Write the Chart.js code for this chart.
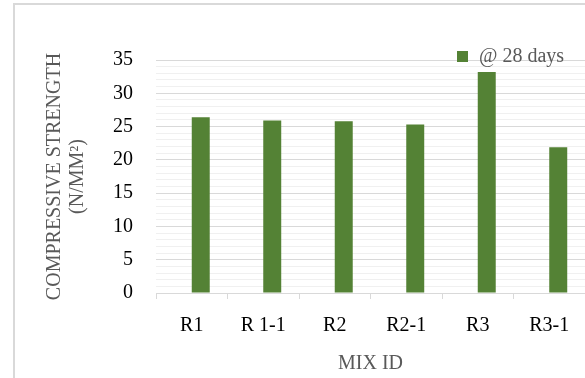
<!DOCTYPE html>
<html>
<head>
<meta charset="utf-8">
<script src="https://cdn.jsdelivr.net/npm/chart.js@4/dist/chart.umd.min.js"></script>
<style>
  body { margin: 0; background: #fff; }
  canvas { display: block; }
</style>
</head>
<body>
<canvas id="myChart" width="585" height="378"></canvas>
<script>
const mixIds = ['R1', 'R 1-1', 'R2', 'R2-1', 'R3', 'R3-1'];
const strength28 = [26.4, 25.9, 25.8, 25.3, 33.2, 21.9];
// the sheet had a second, empty series, which is why the bars sit right of centre
const emptySeries = [null, null, null, null, null, null];
const yTitle = ['COMPRESSIVE STRENGTH', '(N/MM\u00B2)'];
const xTitle = 'MIX ID';

const green = '#548235';
const serif = '"Liberation Serif", "Times New Roman", serif';

// light frame round the whole chart, like the Excel chart border
const framePlugin = {
  id: 'frame',
  beforeDraw(chart) {
    const ctx = chart.ctx;
    ctx.save();
    ctx.fillStyle = '#fff';
    ctx.fillRect(0, 0, chart.width, chart.height);
    ctx.strokeStyle = '#d9d9d9';
    ctx.lineWidth = 2;
    ctx.strokeRect(14, 4, chart.width + 20, chart.height + 20);
    ctx.restore();
  }
};

// legend drawn inside the plot, top right
const legendPlugin = {
  id: 'insideLegend',
  afterDraw(chart) {
    const ctx = chart.ctx;
    const area = chart.chartArea;
    const ds = chart.data.datasets[1];
    const x = area.left + 301;
    const y = area.top - 4;
    ctx.save();
    ctx.fillStyle = ds.backgroundColor;
    ctx.fillRect(x, y - 5, 11, 11);
    ctx.fillStyle = '#595959';
    ctx.font = '20px ' + serif;
    ctx.textBaseline = 'middle';
    ctx.textAlign = 'left';
    ctx.fillText(ds.label, x + 22, y + 1);
    ctx.restore();
  }
};

new Chart(document.getElementById('myChart'), {
  type: 'bar',
  data: {
    labels: mixIds,
    datasets: [
      { label: '', data: emptySeries, backgroundColor: green },
      { label: '@ 28 days', data: strength28, backgroundColor: green, borderWidth: 0 }
    ]
  },
  options: {
    responsive: false,
    animation: false,
    layout: { padding: { top: 60, right: 0, bottom: 0, left: 0 } },
    datasets: { bar: { categoryPercentage: 0.503, barPercentage: 1 } },
    plugins: {
      legend: { display: false },
      tooltip: { enabled: false }
    },
    scales: {
      x: {
        grid: {
          drawOnChartArea: false,
          drawTicks: true,
          tickLength: 6,
          color: '#d9d9d9'
        },
        border: { color: '#d9d9d9' },
        ticks: {
          color: '#000',
          padding: 15,
          font: { family: serif, size: 20 }
        },
        title: {
          display: true,
          text: xTitle,
          color: '#595959',
          padding: { top: 0, bottom: 2 },
          font: { family: serif, size: 20 }
        },
        afterFit(scale) { scale.height = 85; }
      },
      y: {
        min: 0,
        max: 35,
        border: { display: false },
        grid: {
          drawTicks: false,
          color: (c) => (c.tick && c.tick.value % 5 === 0) ? '#d9d9d9' : '#f0f0f0'
        },
        ticks: {
          stepSize: 1,
          autoSkip: false,
          padding: 23,
          color: '#000',
          font: { family: serif, size: 20 },
          callback: (v) => (v % 5 === 0 ? v : '')
        },
        title: {
          display: true,
          text: yTitle,
          color: '#595959',
          padding: { top: 43, bottom: 0 },
          font: { family: serif, size: 20, lineHeight: 1.15 }
        },
        afterFit(scale) { scale.width = 156; }
      }
    }
  },
  plugins: [framePlugin, legendPlugin]
});
</script>
</body>
</html>
